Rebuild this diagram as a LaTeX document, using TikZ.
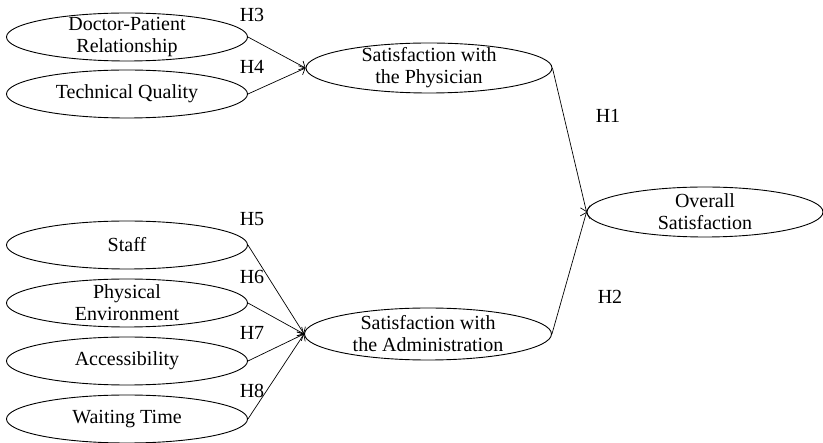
\documentclass[tikz,border=0pt]{standalone}
\usepackage{fontspec}
\setmainfont{Liberation Serif}
\usetikzlibrary{shapes.geometric,arrows.meta}
\begin{document}
\begin{tikzpicture}[x=1pt,y=-1pt,
  txt/.style={font=\fontsize{20}{22}\selectfont,align=center,inner sep=0pt},
  latent/.style={ellipse,draw,line width=0.9pt,inner sep=0pt,minimum width=241pt,minimum height=48pt},
  hyp/.style={font=\fontsize{20}{22}\selectfont,inner sep=0pt},
  conn/.style={line width=0.7pt,-{Straight Barb[length=5pt,width=10pt]}}]
\useasboundingbox (0,0) rectangle (823,443);
% source constructs
\node[latent,label={[txt]center:Doctor-Patient\\Relationship}] (dp) at (127,37) {};
\node[latent,label={[txt]center:Technical Quality}] (tq) at (127,94) {};
\node[latent,label={[txt]center:Staff}] (st) at (127,245) {};
\node[latent,label={[txt]center:Physical\\Environment}] (pe) at (127,303) {};
\node[latent,label={[txt]center:Accessibility}] (ac) at (127,361) {};
\node[latent,label={[txt]center:Waiting Time}] (wt) at (127,419) {};
% mediators and outcome
\node[latent,minimum width=246pt,minimum height=50pt,label={[txt]center:Satisfaction with\\the Physician}] (sp) at (429,68) {};
\node[latent,minimum width=247pt,minimum height=52pt,label={[txt]center:Satisfaction with\\the Administration}] (sa) at (428,334) {};
\node[latent,minimum width=236pt,minimum height=50pt,label={[txt]center:Overall\\Satisfaction}] (os) at (705,212) {};
% connectors
\draw[conn] (dp.east) -- (sp.west);
\draw[conn] (tq.east) -- (sp.west);
\draw[conn] (st.east) -- (sa.west);
\draw[conn] (pe.east) -- (sa.west);
\draw[conn] (ac.east) -- (sa.west);
\draw[conn] (wt.east) -- (sa.west);
\draw[conn] (sp.east) -- (os.west);
\draw[conn] (sa.east) -- (os.west);
% hypothesis labels
\node[hyp] (h3) at (252,15) {H3};
\node[hyp] (h4) at (252,67) {H4};
\node[hyp] (h5) at (252,219) {H5};
\node[hyp] (h6) at (252,277) {H6};
\node[hyp] (h7) at (252,333) {H7};
\node[hyp] (h8) at (252,391) {H8};
\node[hyp] (h1) at (608,116) {H1};
\node[hyp] (h2) at (610,297) {H2};
\end{tikzpicture}
\end{document}
